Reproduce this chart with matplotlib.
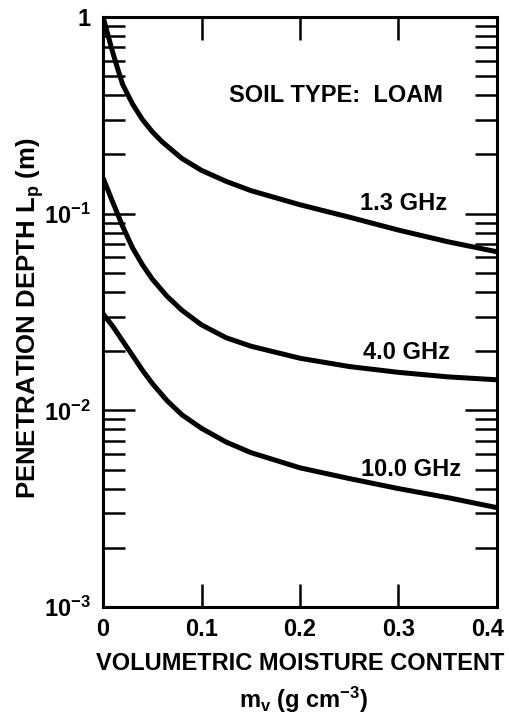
import matplotlib
matplotlib.use("Agg")
import matplotlib.pyplot as plt
import matplotlib.transforms as mtrans
from matplotlib.ticker import FixedLocator, LogLocator, NullFormatter

plt.rcParams['font.family'] = ['Liberation Sans', 'DejaVu Sans']
plt.rcParams['font.weight'] = 'bold'
plt.rcParams['mathtext.fontset'] = 'custom'
plt.rcParams['mathtext.rm'] = 'Liberation Sans:bold'
plt.rcParams['mathtext.it'] = 'Liberation Sans:bold'
plt.rcParams['mathtext.bf'] = 'Liberation Sans:bold'

# --- dane ---
mv_13 = [0.0, 0.005, 0.01, 0.015, 0.02, 0.03, 0.04, 0.05, 0.06, 0.08, 0.1, 0.125, 0.15, 0.2, 0.25, 0.3, 0.35, 0.4]
lp_13 = [1.0, 0.81, 0.657, 0.543, 0.453, 0.361, 0.301, 0.261, 0.232, 0.191, 0.166, 0.146, 0.131, 0.111, 0.096, 0.0825, 0.072, 0.064]

mv_40 = [0.0, 0.01, 0.02, 0.03, 0.04, 0.05, 0.065, 0.08, 0.1, 0.125, 0.15, 0.2, 0.25, 0.3, 0.35, 0.4]
lp_40 = [0.152, 0.114, 0.086, 0.067, 0.055, 0.0465, 0.038, 0.0323, 0.0272, 0.0234, 0.0212, 0.0184, 0.0167, 0.0156, 0.0148, 0.0143]

mv_100 = [0.0, 0.01, 0.02, 0.03, 0.04, 0.05, 0.065, 0.08, 0.1, 0.125, 0.15, 0.2, 0.25, 0.3, 0.35, 0.4]
lp_100 = [0.031, 0.0267, 0.0225, 0.019, 0.016, 0.0137, 0.0112, 0.0095, 0.0081, 0.0069, 0.0061, 0.0051, 0.0045, 0.0040, 0.0036, 0.0032]

x_ticks = [0, 0.1, 0.2, 0.3, 0.4]
x_labels = ['0', '0.1', '0.2', '0.3', '0.4']
y_ticks = [1e-3, 1e-2, 1e-1, 1]
y_labels = [r'$10^{-3}$', r'$10^{-2}$', r'$10^{-1}$', '1']

curve_labels = [
    (0.349, 0.112, '1.3 GHz'),
    (0.352, 0.0197, '4.0 GHz'),
    (0.364, 0.0050, '10.0 GHz'),
]

FS = 17

fig = plt.figure(figsize=(5.09, 7.17), dpi=100)
ax = fig.add_axes([0.2024, 0.1534, 0.774, 0.8229])

for mv, lp in [(mv_13, lp_13), (mv_40, lp_40), (mv_100, lp_100)]:
    ax.plot(mv, lp, color='black', lw=3.6, solid_capstyle='butt', solid_joinstyle='round')

ax.set_yscale('log')
ax.set_xlim(0, 0.4)
ax.set_ylim(1e-3, 1)

ax.xaxis.set_major_locator(FixedLocator(x_ticks))
ax.set_xticklabels(x_labels)
ax.yaxis.set_major_locator(FixedLocator(y_ticks))
ax.set_yticklabels(y_labels)
ax.yaxis.set_minor_locator(LogLocator(base=10, subs=range(2, 10)))
ax.yaxis.set_minor_formatter(NullFormatter())

for s in ax.spines.values():
    s.set_linewidth(2.2)

ax.tick_params(axis='x', which='major', direction='in', length=16.5, width=1.8,
               top=True, bottom=True, labelsize=FS, pad=8)
ax.tick_params(axis='y', which='major', direction='in', length=23, width=1.8,
               left=True, right=True, labelsize=FS, pad=9)
ax.tick_params(axis='y', which='minor', direction='in', length=16, width=1.8,
               left=True, right=True)

# ostatnia etykieta osi x lekko w lewo, zeby sie zmiescila
last = ax.get_xticklabels()[-1]
last.set_transform(last.get_transform() + mtrans.ScaledTranslation(-7 / 72, 0, fig.dpi_scale_trans))

ax.text(0.345, 0.40, 'SOIL TYPE:  LOAM', ha='right', va='center', fontsize=FS, fontweight='bold')
for x, y, t in curve_labels:
    ax.text(x, y, t, ha='right', va='center', fontsize=FS, fontweight='bold')

fig.text(0.059, 1 - 318 / 717, r'PENETRATION DEPTH L$_\mathregular{p}$ (m)', rotation=90,
         ha='center', va='center', fontsize=18.5, fontweight='bold')
fig.text(0.589, 0.0753, 'VOLUMETRIC MOISTURE CONTENT', ha='center', va='center',
         fontsize=FS, fontweight='bold')
fig.text(0.597, 0.024, r'm$_\mathregular{v}$ (g cm$^{-3}$)', ha='center', va='center',
         fontsize=FS, fontweight='bold')

fig.savefig('out.png', dpi=100)
